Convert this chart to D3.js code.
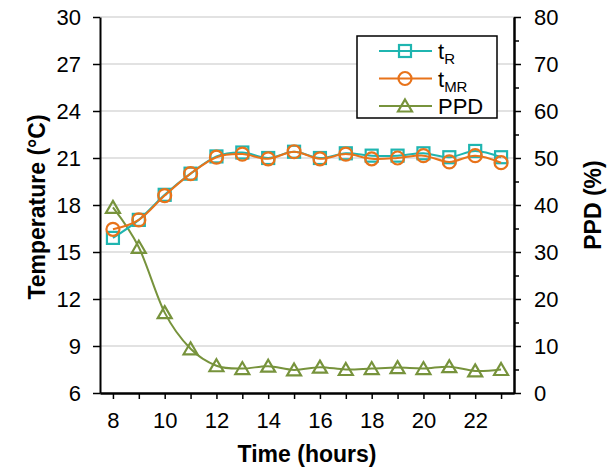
<!DOCTYPE html>
<html>
<head>
<meta charset="utf-8">
<script src="https://cdn.jsdelivr.net/npm/d3@7"></script>
<style>
  body { margin: 0; background: #fff; }
  text { font-family: "Liberation Sans", Arial, sans-serif; fill: #000; }
</style>
</head>
<body>
<svg id="chart" width="607" height="468"></svg>
<script>
const hours = [8, 9, 10, 11, 12, 13, 14, 15, 16, 17, 18, 19, 20, 21, 22, 23];
const tR  = [15.9, 17.05, 18.65, 20.0, 21.1, 21.35, 21.0, 21.4, 21.0, 21.3, 21.15, 21.15, 21.3, 21.05, 21.45, 21.05];
const tMR = [16.45, 17.05, 18.6, 20.0, 21.05, 21.25, 20.95, 21.4, 20.95, 21.25, 20.95, 21.0, 21.15, 20.75, 21.15, 20.7];
const ppd = [39.5, 31.0, 17.1, 9.4, 5.8, 5.2, 5.7, 4.9, 5.5, 5.0, 5.2, 5.4, 5.2, 5.6, 4.7, 5.0];
const leftTicks = [6, 9, 12, 15, 18, 21, 24, 27, 30];
const rightTicks = [0, 10, 20, 30, 40, 50, 60, 70, 80];

const margin = { top: 17, right: 93, bottom: 75, left: 100 };
const width = 607 - margin.left - margin.right;
const height = 468 - margin.top - margin.bottom;

const svg = d3.select("#chart");
const g = svg.append("g").attr("transform", `translate(${margin.left},${margin.top})`);

const x = d3.scaleLinear().domain([7.5, 23.5]).range([0, width]);
const yL = d3.scaleLinear().domain([6, 30]).range([height, 0]);
const yR = d3.scaleLinear().domain([0, 80]).range([height, 0]);

// gridlines
g.selectAll(".grid").data(leftTicks.slice(1)).enter().append("line")
    .attr("x1", 0).attr("x2", width)
    .attr("y1", d => yL(d)).attr("y2", d => yL(d))
    .attr("stroke", "#d9d9d9").attr("stroke-width", 1.3);

// left axis
const axL = g.append("g")
    .call(d3.axisLeft(yL).tickValues(leftTicks).tickSize(7).tickSizeOuter(0).tickPadding(12));
// right axis (major + minor)
const axRm = g.append("g").attr("transform", `translate(${width},0)`)
    .call(d3.axisRight(yR).tickValues(d3.range(5, 80, 10)).tickSize(5).tickFormat("").tickSizeOuter(0));
const axR = g.append("g").attr("transform", `translate(${width},0)`)
    .call(d3.axisRight(yR).tickValues(rightTicks).tickSize(7).tickSizeOuter(0).tickPadding(13));
// bottom axis (minor every hour, labels every 2)
const axBm = g.append("g").attr("transform", `translate(0,${height})`)
    .call(d3.axisBottom(x).tickValues(d3.range(9, 24, 2)).tickSize(6).tickFormat("").tickSizeOuter(0));
const axB = g.append("g").attr("transform", `translate(0,${height})`)
    .call(d3.axisBottom(x).tickValues(d3.range(8, 23, 2)).tickSize(6).tickSizeOuter(0).tickPadding(13));

[axL, axR, axRm, axB, axBm].forEach(a => {
    a.select(".domain").attr("stroke", "#000").attr("stroke-width", 2);
    a.selectAll(".tick line").attr("stroke", "#000").attr("stroke-width", 1.5);
    a.selectAll(".tick text").style("font-size", "22px").style("font-family", "Liberation Sans, Arial, sans-serif");
});

// series
const series = [
    { name: "tR", sub: "R", values: tR, y: yL, color: "#1fb5b0", marker: "square" },
    { name: "tMR", sub: "MR", values: tMR, y: yL, color: "#e8731a", marker: "circle" },
    { name: "PPD", sub: null, values: ppd, y: yR, color: "#77933c", marker: "triangle" }
];

function drawMarker(sel, type, color) {
    if (type === "square") {
        sel.append("rect").attr("x", -6).attr("y", -6).attr("width", 12).attr("height", 12);
    } else if (type === "circle") {
        sel.append("circle").attr("r", 6.5);
    } else {
        sel.append("path").attr("d", "M0,-6.5L7,5.5L-7,5.5Z");
    }
    sel.selectAll("rect,circle,path").attr("fill", "none").attr("stroke", color).attr("stroke-width", 2.2);
}

// draw PPD first, then tR, then tMR on top
[series[2], series[0], series[1]].forEach(s => {
    const pts = hours.map((h, i) => [h, s.values[i]]);
    const line = d3.line()
        .x(d => x(d[0])).y(d => s.y(d[1]))
        .curve(d3.curveCardinal.tension(0));
    g.append("path").datum(pts)
        .attr("d", line).attr("fill", "none")
        .attr("stroke", s.color).attr("stroke-width", 2);
    pts.forEach(d => {
        const m = g.append("g").attr("transform", `translate(${x(d[0])},${s.y(d[1])})`);
        drawMarker(m, s.marker, s.color);
    });
});

// legend
const legend = svg.append("g").attr("transform", "translate(357,36)");
legend.append("rect").attr("width", 140).attr("height", 82)
    .attr("fill", "#fff").attr("stroke", "#000").attr("stroke-width", 1.5);
series.forEach((s, i) => {
    const row = legend.append("g").attr("transform", `translate(0,${15 + i * 27.5})`);
    row.append("line").attr("x1", 22).attr("x2", 75).attr("y1", 0).attr("y2", 0)
        .attr("stroke", s.color).attr("stroke-width", 2);
    const m = row.append("g").attr("transform", "translate(48,0)");
    drawMarker(m, s.marker, s.color);
    const t = row.append("text").attr("x", 81).attr("y", 8).style("font-size", "22px");
    if (s.sub) {
        t.append("tspan").text("t");
        t.append("tspan").attr("dy", 5).style("font-size", "15px").text(s.sub);
    } else {
        t.text(s.name);
    }
});

// axis titles
svg.append("text")
    .attr("transform", `translate(45,${margin.top + height / 2 + 2}) rotate(-90)`)
    .attr("text-anchor", "middle")
    .style("font-size", "23px").style("font-weight", "bold")
    .text("Temperature (°C)");
svg.append("text")
    .attr("transform", `translate(601,${margin.top + height / 2}) rotate(-90)`)
    .attr("text-anchor", "middle")
    .style("font-size", "23px").style("font-weight", "bold")
    .text("PPD (%)");
svg.append("text")
    .attr("x", margin.left + width / 2).attr("y", 462)
    .attr("text-anchor", "middle")
    .style("font-size", "23px").style("font-weight", "bold")
    .text("Time (hours)");
</script>
</body>
</html>
